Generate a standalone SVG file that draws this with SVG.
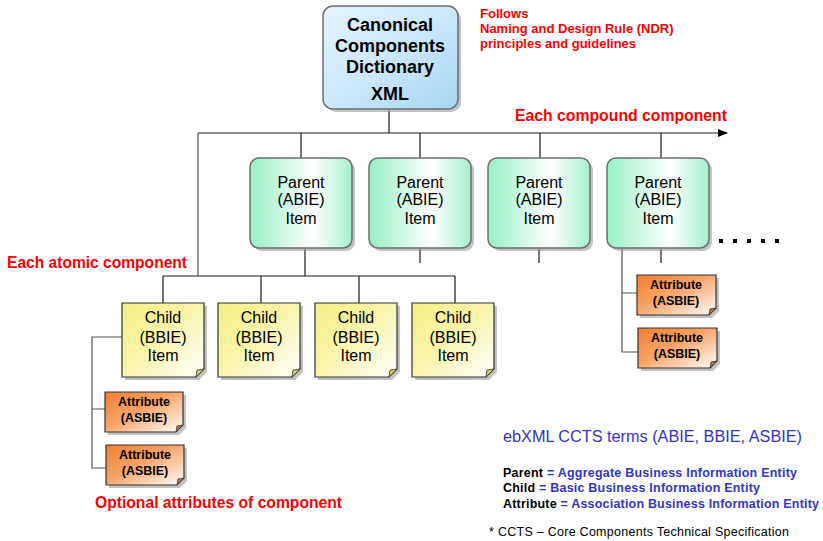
<svg xmlns="http://www.w3.org/2000/svg" width="823" height="541" viewBox="0 0 823 541">
  <style>
    .wire { fill: none; stroke: #1a1a1a; stroke-width: 1.2; }
    .edge { stroke: #555; stroke-width: 1.2; }
    .lbl { font-family: "Liberation Sans", Arial, sans-serif; fill: #000; text-anchor: middle; }
    .red { font-family: "Liberation Sans", Arial, sans-serif; fill: #ff0000; font-weight: bold; }
    .blue { font-family: "Liberation Sans", Arial, sans-serif; fill: #3333cc; }
    .blk { font-family: "Liberation Sans", Arial, sans-serif; fill: #000; font-weight: bold; }
    .shadow { fill: #9a9a9a; opacity: 0.6; }
  </style>
  <defs>
    <linearGradient id="gBlue" x1="0" y1="0" x2="1" y2="1">
      <stop offset="0" stop-color="#e4f3fd"/>
      <stop offset="0.5" stop-color="#cbe8fa"/>
      <stop offset="1" stop-color="#a6d5f1"/>
    </linearGradient>
    <linearGradient id="gGreen" x1="0" y1="0" x2="1" y2="0">
      <stop offset="0" stop-color="#98f0c4"/>
      <stop offset="0.62" stop-color="#ffffff"/>
      <stop offset="1" stop-color="#a4f0cc"/>
    </linearGradient>
    <linearGradient id="gYellow" x1="0" y1="0" x2="1" y2="1">
      <stop offset="0" stop-color="#f4ef86"/>
      <stop offset="0.45" stop-color="#f8f4a8"/>
      <stop offset="1" stop-color="#ffffff"/>
    </linearGradient>
    <linearGradient id="gOrange" x1="0" y1="0" x2="1" y2="1">
      <stop offset="0" stop-color="#f08030"/>
      <stop offset="0.45" stop-color="#f6a468"/>
      <stop offset="1" stop-color="#ffffff"/>
    </linearGradient>
    <marker id="arrow" markerWidth="10" markerHeight="8" refX="9" refY="4" orient="auto" markerUnits="userSpaceOnUse">
      <path d="M0,0 L10,4 L0,8 Z" fill="#000"/>
    </marker>
  </defs>

  <!-- connectors -->
  <g id="connectors">
    <line class="wire" x1="389" y1="110" x2="389" y2="133"/>
    <line class="wire" x1="198" y1="133" x2="727" y2="133" marker-end="url(#arrow)"/>
    <line class="edge" x1="198" y1="133" x2="198" y2="276"/>
    <line class="wire" x1="301" y1="133" x2="301" y2="158"/>
    <line class="wire" x1="420" y1="133" x2="420" y2="158"/>
    <line class="wire" x1="540" y1="133" x2="540" y2="158"/>
    <line class="wire" x1="661" y1="133" x2="661" y2="158"/>
    <line class="wire" x1="305" y1="249" x2="305" y2="276"/>
    <line class="wire" x1="420" y1="249" x2="420" y2="263"/>
    <line class="wire" x1="539" y1="249" x2="539" y2="263"/>
    <line class="wire" x1="661" y1="249" x2="661" y2="263"/>
    <line class="wire" x1="163" y1="276" x2="455" y2="276"/>
    <line class="wire" x1="163" y1="276" x2="163" y2="303"/>
    <line class="wire" x1="261" y1="276" x2="261" y2="303"/>
    <line class="wire" x1="359" y1="276" x2="359" y2="303"/>
    <line class="wire" x1="455" y1="276" x2="455" y2="303"/>
    <path class="edge" fill="none" d="M122,337 H92 V468 H106 M92,409 H105"/>
    <path class="edge" fill="none" d="M622,249 V352 H638 M622,293 H637"/>
  </g>

  <!-- dictionary root -->
  <g id="dictionary">
    <rect class="shadow" x="326" y="9" width="135" height="103" rx="10"/>
    <rect x="323" y="6" width="135" height="103" rx="10" fill="url(#gBlue)" stroke="#6e6e6e" stroke-width="1.5"/>
    <text class="lbl" font-size="18" font-weight="bold" x="390" y="31">Canonical</text>
    <text class="lbl" font-size="18" font-weight="bold" x="390" y="52">Components</text>
    <text class="lbl" font-size="18" font-weight="bold" x="390" y="73">Dictionary</text>
    <text class="lbl" font-size="18" font-weight="bold" x="390" y="100">XML</text>
  </g>

  <!-- parent items -->
  <g id="parent1">
    <rect class="shadow" x="253" y="161" width="102" height="90" rx="9"/>
    <rect x="250" y="158" width="102" height="90" rx="9" fill="url(#gGreen)" stroke="#6e6e6e" stroke-width="1.5"/>
    <text class="lbl" font-size="16" x="301" y="188">Parent</text>
    <text class="lbl" font-size="16" x="301" y="205">(ABIE)</text>
    <text class="lbl" font-size="16" x="301" y="224">Item</text>
  </g>
  <g id="parent2">
    <rect class="shadow" x="372" y="161" width="102" height="90" rx="9"/>
    <rect x="369" y="158" width="102" height="90" rx="9" fill="url(#gGreen)" stroke="#6e6e6e" stroke-width="1.5"/>
    <text class="lbl" font-size="16" x="420" y="188">Parent</text>
    <text class="lbl" font-size="16" x="420" y="205">(ABIE)</text>
    <text class="lbl" font-size="16" x="420" y="224">Item</text>
  </g>
  <g id="parent3">
    <rect class="shadow" x="491" y="161" width="102" height="90" rx="9"/>
    <rect x="488" y="158" width="102" height="90" rx="9" fill="url(#gGreen)" stroke="#6e6e6e" stroke-width="1.5"/>
    <text class="lbl" font-size="16" x="539" y="188">Parent</text>
    <text class="lbl" font-size="16" x="539" y="205">(ABIE)</text>
    <text class="lbl" font-size="16" x="539" y="224">Item</text>
  </g>
  <g id="parent4">
    <rect class="shadow" x="610" y="161" width="102" height="90" rx="9"/>
    <rect x="607" y="158" width="102" height="90" rx="9" fill="url(#gGreen)" stroke="#6e6e6e" stroke-width="1.5"/>
    <text class="lbl" font-size="16" x="658" y="188">Parent</text>
    <text class="lbl" font-size="16" x="658" y="205">(ABIE)</text>
    <text class="lbl" font-size="16" x="658" y="224">Item</text>
  </g>

  <!-- continuation dots -->
  <g id="more" fill="#000">
    <rect x="719" y="239" width="4" height="4"/>
    <rect x="733" y="239" width="4" height="4"/>
    <rect x="747" y="239" width="4" height="4"/>
    <rect x="761" y="239" width="4" height="4"/>
    <rect x="775" y="239" width="4" height="4"/>
  </g>

  <!-- child items -->
  <g id="child1">
    <path class="shadow" d="M125,306 H207 V372 L199,380 H125 Z"/>
    <path d="M122,303 H204 V369 L196,377 H122 Z" fill="url(#gYellow)" stroke="#333" stroke-width="1.2"/>
    <path d="M204,369 L196,377 L197,370 Z" fill="#d6cf5a" stroke="#333" stroke-width="0.8"/>
    <text class="lbl" font-size="16" x="163" y="323">Child</text>
    <text class="lbl" font-size="16" x="163" y="343">(BBIE)</text>
    <text class="lbl" font-size="16" x="163" y="361">Item</text>
  </g>
  <g id="child2">
    <path class="shadow" d="M221,306 H303 V372 L295,380 H221 Z"/>
    <path d="M218,303 H300 V369 L292,377 H218 Z" fill="url(#gYellow)" stroke="#333" stroke-width="1.2"/>
    <path d="M300,369 L292,377 L293,370 Z" fill="#d6cf5a" stroke="#333" stroke-width="0.8"/>
    <text class="lbl" font-size="16" x="259" y="323">Child</text>
    <text class="lbl" font-size="16" x="259" y="343">(BBIE)</text>
    <text class="lbl" font-size="16" x="259" y="361">Item</text>
  </g>
  <g id="child3">
    <path class="shadow" d="M318,306 H400 V372 L392,380 H318 Z"/>
    <path d="M315,303 H397 V369 L389,377 H315 Z" fill="url(#gYellow)" stroke="#333" stroke-width="1.2"/>
    <path d="M397,369 L389,377 L390,370 Z" fill="#d6cf5a" stroke="#333" stroke-width="0.8"/>
    <text class="lbl" font-size="16" x="356" y="323">Child</text>
    <text class="lbl" font-size="16" x="356" y="343">(BBIE)</text>
    <text class="lbl" font-size="16" x="356" y="361">Item</text>
  </g>
  <g id="child4">
    <path class="shadow" d="M415,306 H497 V372 L489,380 H415 Z"/>
    <path d="M412,303 H494 V369 L486,377 H412 Z" fill="url(#gYellow)" stroke="#333" stroke-width="1.2"/>
    <path d="M494,369 L486,377 L487,370 Z" fill="#d6cf5a" stroke="#333" stroke-width="0.8"/>
    <text class="lbl" font-size="16" x="453" y="323">Child</text>
    <text class="lbl" font-size="16" x="453" y="343">(BBIE)</text>
    <text class="lbl" font-size="16" x="453" y="361">Item</text>
  </g>

  <!-- attributes under the first child -->
  <g id="attr1">
    <path class="shadow" d="M108,395 H186 V428 L179,435 H108 Z"/>
    <path d="M105,392 H183 V425 L176,432 H105 Z" fill="url(#gOrange)" stroke="#333" stroke-width="1.2"/>
    <path d="M183,425 L176,432 L177,426 Z" fill="#c8703a" stroke="#333" stroke-width="0.8"/>
    <text class="lbl" font-size="12.5" font-weight="bold" x="144" y="406">Attribute</text>
    <text class="lbl" font-size="12.5" font-weight="bold" x="144" y="422">(ASBIE)</text>
  </g>
  <g id="attr2">
    <path class="shadow" d="M109,448 H187 V481 L180,488 H109 Z"/>
    <path d="M106,445 H184 V478 L177,485 H106 Z" fill="url(#gOrange)" stroke="#333" stroke-width="1.2"/>
    <path d="M184,478 L177,485 L178,479 Z" fill="#c8703a" stroke="#333" stroke-width="0.8"/>
    <text class="lbl" font-size="12.5" font-weight="bold" x="145" y="459">Attribute</text>
    <text class="lbl" font-size="12.5" font-weight="bold" x="145" y="475">(ASBIE)</text>
  </g>

  <!-- attributes under the fourth parent -->
  <g id="attr3">
    <path class="shadow" d="M640,278 H719 V311 L712,318 H640 Z"/>
    <path d="M637,275 H716 V308 L709,315 H637 Z" fill="url(#gOrange)" stroke="#333" stroke-width="1.2"/>
    <path d="M716,308 L709,315 L710,309 Z" fill="#c8703a" stroke="#333" stroke-width="0.8"/>
    <text class="lbl" font-size="12.5" font-weight="bold" x="676" y="289">Attribute</text>
    <text class="lbl" font-size="12.5" font-weight="bold" x="676" y="305">(ASBIE)</text>
  </g>
  <g id="attr4">
    <path class="shadow" d="M641,331 H720 V364 L713,371 H641 Z"/>
    <path d="M638,328 H717 V361 L710,368 H638 Z" fill="url(#gOrange)" stroke="#333" stroke-width="1.2"/>
    <path d="M717,361 L710,368 L711,362 Z" fill="#c8703a" stroke="#333" stroke-width="0.8"/>
    <text class="lbl" font-size="12.5" font-weight="bold" x="677" y="342">Attribute</text>
    <text class="lbl" font-size="12.5" font-weight="bold" x="677" y="358">(ASBIE)</text>
  </g>

  <!-- annotations -->
  <g id="notes">
    <text class="red" font-size="13" x="480" y="18">Follows</text>
    <text class="red" font-size="13" x="480" y="33">Naming and Design Rule (NDR)</text>
    <text class="red" font-size="13" x="480" y="48">principles and guidelines</text>
    <text class="red" font-size="16" x="515" y="121" textLength="212" lengthAdjust="spacingAndGlyphs">Each compound component</text>
    <text class="red" font-size="16" x="7" y="268" textLength="180" lengthAdjust="spacingAndGlyphs">Each atomic component</text>
    <text class="red" font-size="16" x="95" y="508" textLength="247" lengthAdjust="spacingAndGlyphs">Optional attributes of component</text>
  </g>

  <!-- legend -->
  <g id="legend">
    <text class="blue" font-size="16" x="503" y="442" textLength="299" lengthAdjust="spacingAndGlyphs">ebXML CCTS terms (ABIE, BBIE, ASBIE)</text>
    <text class="blk" font-size="12.5" x="503" y="477" textLength="294" lengthAdjust="spacing">Parent <tspan fill="#3333cc">= Aggregate Business Information Entity</tspan></text>
    <text class="blk" font-size="12.5" x="503" y="492" textLength="257" lengthAdjust="spacing">Child <tspan fill="#3333cc">= Basic Business Information Entity</tspan></text>
    <text class="blk" font-size="12.5" x="503" y="508" textLength="316" lengthAdjust="spacing">Attribute <tspan fill="#3333cc">= Association Business Information Entity</tspan></text>
    <text font-family="Liberation Sans, Arial, sans-serif" font-size="12.5" fill="#000" x="489" y="536" textLength="300" lengthAdjust="spacing">* CCTS – Core Components Technical Specification</text>
  </g>
</svg>
